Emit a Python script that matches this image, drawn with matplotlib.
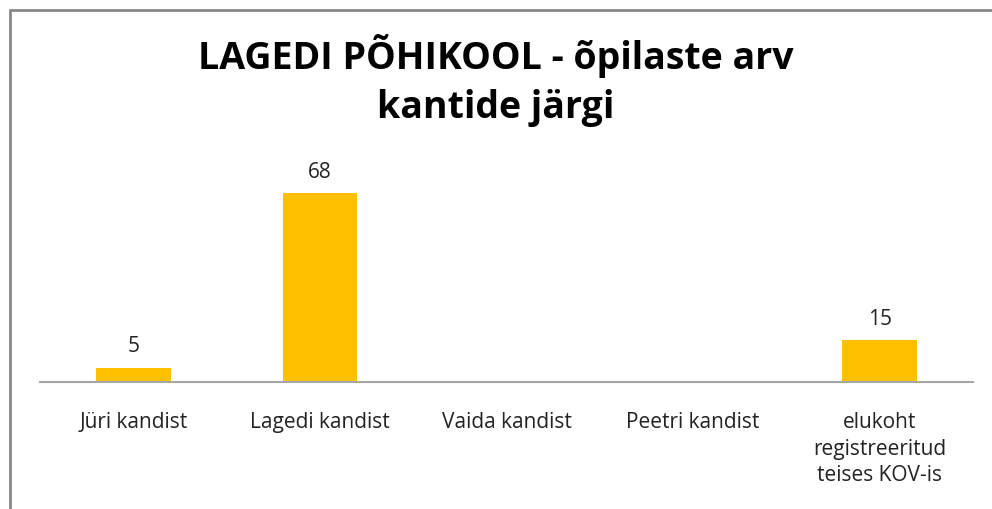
import matplotlib
matplotlib.use("Agg")
import matplotlib.pyplot as plt
from matplotlib.patches import Rectangle

plt.rcParams['font.family'] = ['Open Sans', 'DejaVu Sans']

categories = ['Jüri kandist', 'Lagedi kandist', 'Vaida kandist', 'Peetri kandist',
              'elukoht\nregistreeritud\nteises KOV-is']
values = [5, 68, 0, 0, 15]
title_lines = ['LAGEDI PÕHIKOOL - õpilaste arv', 'kantide järgi']

fig = plt.figure(figsize=(9.92, 5.10), dpi=100)
ax = fig.add_axes([40/992, 127/510, 933/992, 222/510])

x = range(len(categories))
bars = ax.bar(x, values, width=0.4, color='#FFC000')
for xi, v in zip(x, values):
    if v > 0:
        ax.text(xi, v + 4.2, str(v), ha='center', va='bottom', fontsize=15, color='#222222')

ax.set_xlim(-0.5, len(categories) - 0.5)
ax.set_ylim(0, 80)
ax.set_xticks(list(x))
ax.set_xticklabels(categories, fontsize=15, color='#222222', linespacing=1.35, va='top')
ax.tick_params(axis='x', length=0, pad=21)
ax.set_yticks([])
for s in ['top', 'right', 'left']:
    ax.spines[s].set_visible(False)
ax.spines['bottom'].set_color('#A6A6A6')
ax.spines['bottom'].set_linewidth(1.5)

fig.text(0.5, 1 - 69/510, title_lines[0], ha='center', va='baseline', fontsize=27,
         fontweight='bold')
fig.text(0.5, 1 - 118/510, title_lines[1], ha='center', va='baseline', fontsize=27,
         fontweight='bold')

# outer chart frame
fig.patches.append(Rectangle((10/992, -0.1), 2, 1.1 - 11/510, transform=fig.transFigure,
                             fill=False, edgecolor='#888888', linewidth=2))

fig.savefig('out.png', dpi=100)
